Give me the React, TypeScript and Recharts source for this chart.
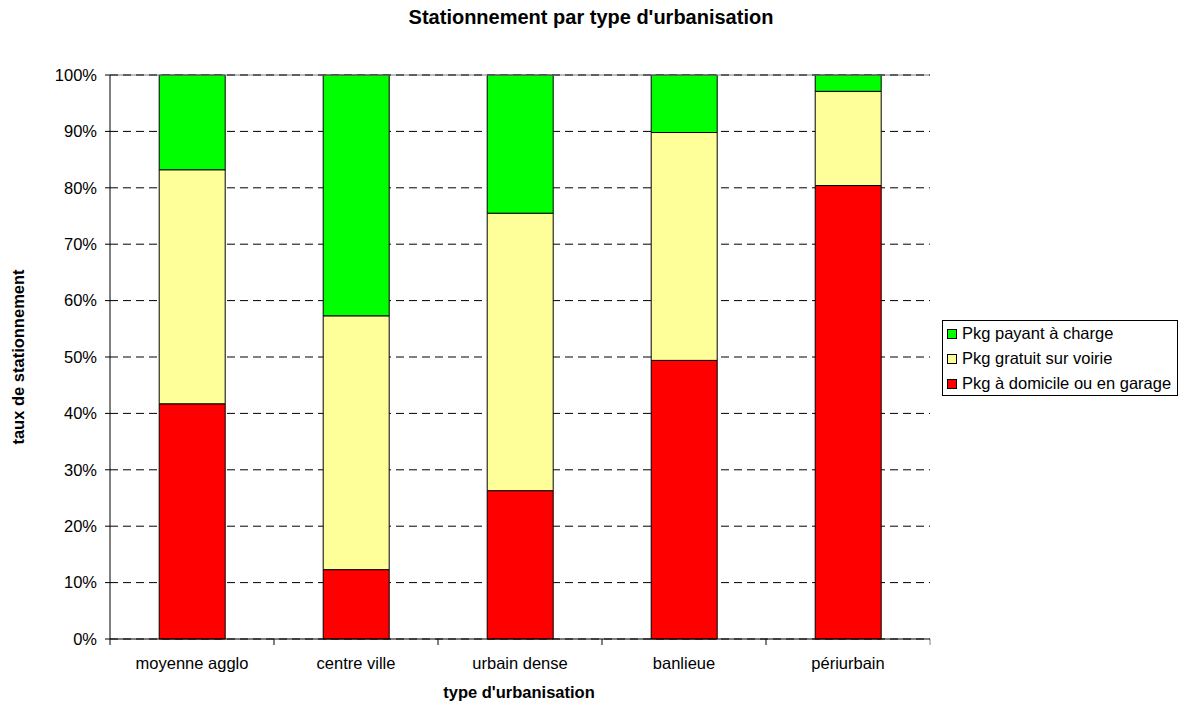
import React from 'react';
import { BarChart, Bar, XAxis, YAxis, CartesianGrid, ReferenceLine } from 'recharts';

const categories = ['moyenne agglo', 'centre ville', 'urbain dense', 'banlieue', 'périurbain'];
const domicile = [41.7, 12.3, 26.3, 49.4, 80.4];
const gratuit = [41.5, 45.0, 49.2, 40.4, 16.7];
const payant = [16.8, 42.7, 24.5, 10.2, 2.9];
const yTicks = [0, 10, 20, 30, 40, 50, 60, 70, 80, 90, 100];

const seriesNames = {
  domicile: 'Pkg à domicile ou en garage',
  gratuit: 'Pkg gratuit sur voirie',
  payant: 'Pkg payant à charge',
};
const seriesColors = {
  domicile: '#FF0000',
  gratuit: '#FFFF99',
  payant: '#00FF00',
};
const legendOrder: Array<keyof typeof seriesNames> = ['payant', 'gratuit', 'domicile'];

const data = categories.map((c, i) => ({
  name: c,
  domicile: domicile[i],
  gratuit: gratuit[i],
  payant: payant[i],
}));

const FONT = '"Liberation Sans", Arial, sans-serif';

const XTick = (props: any) => {
  const { x, y, payload, index, visibleTicksCount } = props;
  const half = payload && typeof payload.offset === 'number' ? payload.offset : 0;
  const last = index === (visibleTicksCount ?? categories.length) - 1;
  return (
    <g>
      <line x1={x - half} x2={x - half} y1={y} y2={y + 6} stroke="#000" strokeWidth={1} />
      {last && <line x1={x + half} x2={x + half} y1={y} y2={y + 6} stroke="#808080" strokeWidth={1} />}
      <text x={x} y={y + 30} textAnchor="middle" fontFamily={FONT} fontSize={16.5} fill="#000">
        {payload.value}
      </text>
    </g>
  );
};

export default function App() {
  return (
    <div style={{ position: 'absolute', left: 0, top: 0, width: 1180, height: 704, background: '#fff' }}>
      <BarChart
        width={1180}
        height={704}
        data={data}
        margin={{ top: 75, right: 250, bottom: 25, left: 50 }}
        barCategoryGap="30%"
      >
        <CartesianGrid vertical={false} stroke="#000" strokeDasharray="8 5" />
        <XAxis
          dataKey="name"
          height={40}
          tickLine={false}
          tickSize={0}
          tickMargin={0}
          axisLine={{ stroke: '#000' }}
          tick={<XTick />}
          interval={0}
        />
        <YAxis
          width={60}
          domain={[0, 100]}
          ticks={yTicks}
          interval={0}
          tickFormatter={(v: number) => `${v}%`}
          tickSize={5}
          tickMargin={8}
          axisLine={{ stroke: '#000' }}
          tickLine={{ stroke: '#000' }}
          tick={{ fontFamily: FONT, fontSize: 16.5, fill: '#000' }}
        />
        <YAxis
          yAxisId="r"
          orientation="right"
          width={0}
          domain={[0, 100]}
          tick={false}
          tickLine={false}
          axisLine={{ stroke: '#808080' }}
        />
        <ReferenceLine y={100} stroke="#808080" strokeWidth={1} />
        <Bar dataKey="domicile" name={seriesNames.domicile} stackId="a" fill={seriesColors.domicile} stroke="#000" strokeWidth={1} isAnimationActive={false} />
        <Bar dataKey="gratuit" name={seriesNames.gratuit} stackId="a" fill={seriesColors.gratuit} stroke="#000" strokeWidth={1} isAnimationActive={false} />
        <Bar dataKey="payant" name={seriesNames.payant} stackId="a" fill={seriesColors.payant} stroke="#000" strokeWidth={1} isAnimationActive={false} />
      </BarChart>
      <svg
        width={1180}
        height={704}
        style={{ position: 'absolute', left: 0, top: 0, pointerEvents: 'none' }}
      >
        <text x={591} y={24} textAnchor="middle" fontFamily={FONT} fontWeight="bold" fontSize={20} fill="#000">
          Stationnement par type d'urbanisation
        </text>
        <text x={519} y={698} textAnchor="middle" fontFamily={FONT} fontWeight="bold" fontSize={16.5} fill="#000">
          type d'urbanisation
        </text>
        <text
          x={0}
          y={0}
          transform="translate(24,357) rotate(-90)"
          textAnchor="middle"
          fontFamily={FONT}
          fontWeight="bold"
          fontSize={16.5}
          fill="#000"
        >
          taux de stationnement
        </text>
        <rect x={942.5} y={320.5} width={235} height={75} fill="#fff" stroke="#000" strokeWidth={1} />
        {legendOrder.map((k, i) => (
          <g key={k}>
            <rect x={947.5} y={329.5 + i * 25} width={9} height={9} fill={seriesColors[k]} stroke="#000" strokeWidth={1} />
            <text x={962} y={338.5 + i * 25} fontFamily={FONT} fontSize={16.5} fill="#000">
              {seriesNames[k]}
            </text>
          </g>
        ))}
      </svg>
    </div>
  );
}
